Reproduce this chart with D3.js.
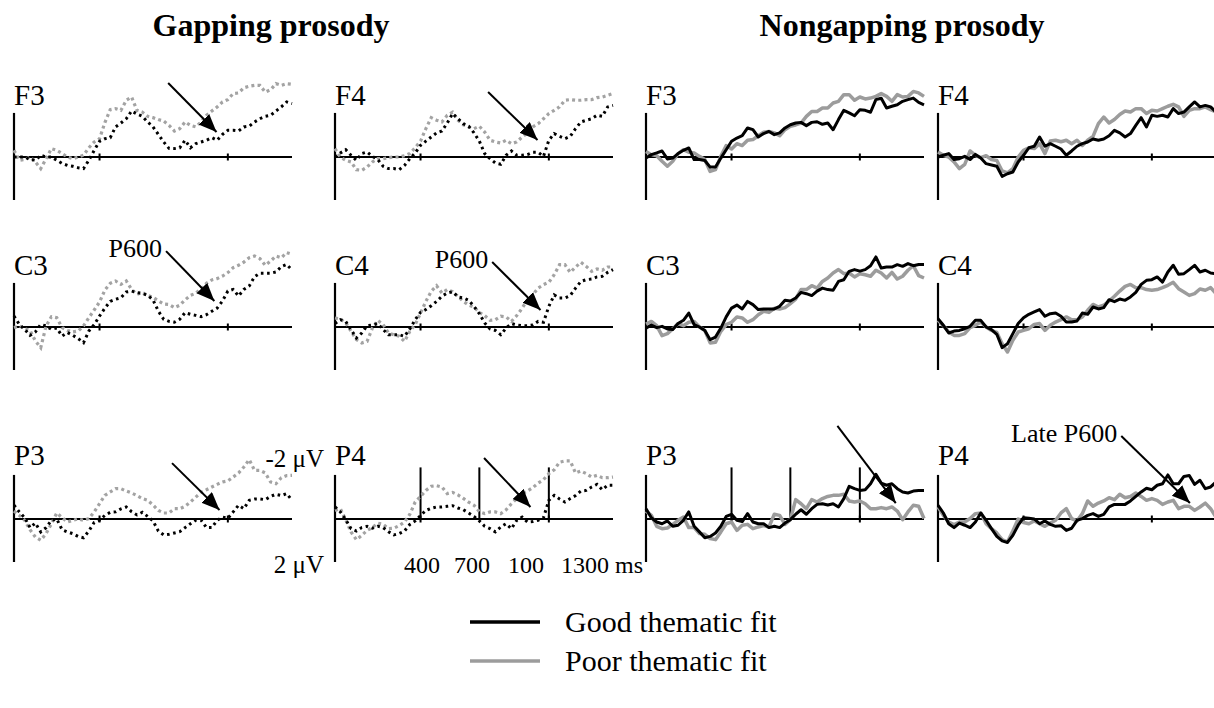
<!DOCTYPE html>
<html><head><meta charset="utf-8">
<script src="https://cdn.jsdelivr.net/npm/d3@7"></script>
<style>body{margin:0;background:#fff}svg{display:block}</style>
</head><body>
<svg id="c" width="1214" height="708"></svg>
<script>
// time base (ms)
const times = [0,25,50,75,100,125,150,175,200,225,250,275,300,325,350,375,400,425,450,475,500,525,550,575,600,625,650,675,700,725,750,775,800,825,850,875,900,925,950,975,1000,1025,1050,1075,1100,1125,1150,1175,1200,1225,1250,1275,1300];

// amplitudes in microvolts (negative plotted up)
const gapF3Good = [0.0,0.0,0.0,0.12,0.15,-0.08,0.0,0.0,0.15,0.3,0.39,0.43,0.5,0.54,0.15,-0.31,-0.73,-0.85,-0.9,-1.4,-1.58,-1.78,-2.14,-2.0,-1.89,-1.63,-1.4,-1.05,-0.7,-0.4,-0.39,-0.43,-0.78,-0.43,-0.62,-0.7,-0.78,-0.9,-0.78,-1.05,-1.24,-1.24,-1.21,-1.4,-1.43,-1.63,-1.78,-1.89,-1.94,-2.14,-2.33,-2.56,-2.48];
const gapF3Poor = [-0.31,0.15,0.12,0,0.23,0.54,0.08,-0.39,-0.31,-0.16,0,0.08,0,-0.08,-0.43,-0.7,-0.85,-1.6,-2.2,-2.25,-2.17,-2.64,-2.79,-2.17,-2.09,-1.89,-1.83,-1.74,-1.67,-1.47,-1.21,-1.32,-1.63,-1.47,-1.4,-1.63,-1.94,-2.14,-2.33,-2.56,-2.67,-2.95,-2.98,-3.22,-3.29,-3.33,-3.33,-3.02,-3.13,-3.41,-3.33,-3.41,-3.38];
const gapF4Good = [0,-0.19,-0.34,-0.08,0.15,-0.16,-0.23,-0.03,0.12,0.43,0.54,0.54,0.59,0.39,0.08,-0.19,-0.54,-0.74,-0.93,-1.12,-1.21,-1.58,-2.02,-1.78,-1.55,-1.43,-1.12,-0.74,-0.16,0.08,0.28,0.34,-0.08,-0.28,-0.08,-0.08,-0.11,-0.22,-0.22,-0.03,-0.78,-1.09,-0.96,-0.85,-0.96,-1.32,-1.63,-1.71,-1.78,-1.94,-1.89,-2.33,-2.4];
const gapF4Poor = [-0.39,0,0.15,0.23,0.59,0.62,0.47,0.23,0.08,0.08,0.03,0,0,-0.06,-0.16,-0.43,-0.74,-1.32,-1.83,-1.71,-1.63,-1.94,-2.09,-1.71,-1.5,-1.4,-1.32,-1.43,-1.16,-0.78,-0.7,-0.65,-0.78,-0.62,-0.7,-0.93,-1.12,-1.4,-1.55,-1.78,-2.02,-2.17,-2.33,-2.64,-2.67,-2.64,-2.64,-2.67,-2.67,-2.76,-2.79,-2.87,-2.95];
const gapC3Good = [-0.51,-0.12,0.11,0.39,0.23,-0.12,-0.05,0.11,0.05,0.42,0.26,0.39,0.54,0.73,0.19,-0.11,-0.51,-0.88,-1.19,-1.29,-1.36,-1.63,-1.67,-1.6,-1.57,-1.47,-1.26,-0.74,-0.36,-0.26,-0.22,-0.36,-0.67,-0.59,-0.54,-0.48,-0.57,-0.73,-0.88,-1.21,-1.67,-1.75,-1.44,-1.75,-1.91,-2.34,-2.5,-2.5,-2.5,-2.56,-2.81,-2.91,-2.65];
const gapC3Poor = [0.03,-0.05,0.08,0.16,0.65,0.96,-0.05,-0.48,-0.43,0.03,0.16,0.23,0.19,-0.05,-0.43,-0.79,-1.16,-1.72,-2.03,-2.14,-1.98,-2.14,-1.75,-1.52,-1.6,-1.47,-1.38,-1.22,-1.07,-1.05,-0.9,-1.01,-1.26,-1.47,-1.57,-1.78,-2.03,-2.19,-2.25,-2.37,-2.53,-2.76,-2.87,-3.02,-3.22,-3.3,-3.18,-2.87,-3.07,-3.3,-3.22,-3.46,-3.38];
const gapC4Good = [-0.16,-0.34,-0.26,0.12,0.51,0.28,-0.06,-0.09,-0.16,0.12,0.36,0.36,0.36,0.43,0.09,-0.34,-0.68,-0.81,-0.99,-1.19,-1.43,-1.58,-1.64,-1.4,-1.35,-1.24,-0.96,-0.62,-0.19,0.09,0.16,0.36,0.05,-0.16,-0.09,-0.06,-0.06,-0.09,-0.26,-0.22,-0.96,-1.49,-1.35,-1.35,-1.46,-1.81,-2.12,-2.2,-2.23,-2.33,-2.36,-2.54,-2.67];
const gapC4Poor = [-0.42,-0.37,-0.19,0.2,0.59,0.74,0.67,0.05,-0.31,-0.11,0.28,0.36,0.43,0.67,0.2,-0.11,-0.65,-1.19,-1.66,-1.92,-1.58,-1.74,-1.64,-1.43,-1.19,-1.02,-0.93,-0.68,-0.53,-0.31,-0.34,-0.5,-0.47,-0.26,-0.53,-0.87,-1.27,-1.5,-1.81,-1.97,-2.08,-2.43,-2.9,-2.9,-2.54,-2.79,-3.01,-2.82,-2.59,-2.7,-2.64,-2.79,-2.79];
const gapP3Good = [-0.64,-0.33,-0.06,0.4,0.19,0.6,0.4,0.06,0,0.5,0.6,0.68,0.81,0.87,0.56,0.16,0.06,-0.17,-0.31,-0.33,-0.47,-0.56,-0.34,-0.19,-0.31,-0.12,0.09,0.56,0.74,0.71,0.65,0.59,0.4,0.22,0.06,0.06,0.4,0.4,0.06,-0.09,-0.03,-0.33,-0.64,-0.48,-0.87,-0.93,-0.93,-0.9,-1.05,-1.15,-1.09,-1.18,-0.87];
const gapP3Poor = [-0.37,-0.17,0.06,0.5,0.84,0.99,0.68,0.22,-0.28,-0.06,0.14,0.06,0,0.06,-0.02,-0.33,-0.71,-1.1,-1.26,-1.41,-1.41,-1.3,-1.21,-1.09,-0.95,-0.87,-0.65,-0.4,-0.28,-0.28,-0.48,-0.48,-0.59,-0.79,-1.02,-1.24,-1.36,-1.49,-1.61,-1.72,-1.77,-1.95,-2.14,-2.42,-2.76,-2.26,-2.26,-2.14,-1.72,-1.64,-1.92,-2.02,-2.03];
const gapP4Good = [-0.56,-0.33,0.03,0.45,0.56,0.4,0.34,0.43,0.34,0.4,0.59,0.74,0.68,0.56,0.25,0.09,-0.16,-0.4,-0.5,-0.56,-0.56,-0.59,-0.62,-0.51,-0.43,-0.28,-0.12,0.09,0.34,0.45,0.6,0.37,0.22,0.45,0.06,-0.09,0.14,0.12,0.06,-0.06,-0.87,-1.1,-0.93,-0.79,-0.95,-1.09,-1.3,-1.33,-1.49,-1.61,-1.36,-1.57,-1.57];
const gapP4Poor = [-0.4,-0.48,0.03,0.6,0.96,0.76,0.53,0.4,0.19,0.25,0.45,0.43,0.31,0.14,-0.22,-0.79,-1.05,-1.33,-1.52,-1.55,-1.49,-1.18,-1.24,-1.12,-0.96,-0.78,-0.64,-0.34,-0.25,-0.33,-0.33,-0.25,-0.43,-0.71,-0.95,-1.18,-1.3,-1.46,-1.67,-1.83,-2.11,-2.29,-2.64,-2.7,-2.7,-2.14,-2.23,-2.11,-1.95,-2.03,-1.92,-1.92,-1.95];

const nonF3Good = [0.05,-0.11,-0.19,-0.28,0.09,0.05,-0.16,-0.31,-0.42,0.12,0.12,0.16,0.47,0.47,0.05,-0.34,-0.73,-0.88,-0.99,-1.35,-1.27,-0.93,-1.09,-1.19,-1.04,-1.12,-1.35,-1.5,-1.58,-1.61,-1.46,-1.61,-1.64,-1.52,-1.58,-1.27,-1.74,-2.17,-2.05,-1.92,-2.2,-2.17,-2.08,-2.67,-2.73,-2.28,-2.36,-2.43,-2.59,-2.67,-2.74,-2.54,-2.43];
const nonF3Poor = [-0.26,-0.11,-0.06,0.2,0.43,0.2,-0.16,-0.34,-0.22,-0.19,-0.03,0.12,0.67,0.59,-0.03,-0.53,-0.37,-0.62,-0.53,-0.78,-0.81,-0.99,-1.15,-1.19,-1.12,-0.99,-1.27,-1.43,-1.49,-1.58,-1.89,-2.12,-2.12,-2.28,-2.28,-2.51,-2.59,-2.9,-2.9,-2.64,-2.79,-2.7,-2.74,-2.82,-2.95,-2.82,-2.59,-2.9,-2.79,-2.82,-3.05,-2.98,-2.82];
const nonF4Good = [0,-0.08,-0.16,0.12,0.08,-0.03,0.12,-0.12,0.05,0.31,0.37,0.43,0.9,0.78,0.7,0.23,-0.08,-0.43,-0.5,-0.93,-0.5,-0.62,-0.5,-0.37,-0.08,-0.28,-0.5,-0.62,-0.7,-0.84,-0.78,-0.84,-0.99,-1.24,-1.12,-0.93,-1.09,-1.47,-1.83,-1.4,-1.94,-1.89,-1.94,-1.86,-2.25,-2.02,-2.09,-2.33,-2.56,-2.33,-2.4,-2.33,-2.09];
const nonF4Poor = [-0.23,-0.08,0,0.23,0.54,0.34,-0.28,-0.08,0.03,-0.06,0.12,0.16,0.65,0.74,0.54,0,-0.31,-0.43,-0.39,-0.62,-0.16,-0.74,-0.78,-0.71,-0.78,-0.62,-0.78,-0.54,-0.78,-0.96,-1.55,-1.86,-1.58,-1.74,-1.98,-2.14,-2.09,-2.25,-2.25,-2.02,-2.17,-2.14,-2.25,-2.36,-2.45,-2.33,-1.89,-2.17,-2.25,-2.25,-2.33,-2.2,-2.09];
const nonC3Good = [0.05,-0.09,0.03,-0.03,0.09,0.12,-0.16,-0.31,-0.65,-0.11,0,0.16,0.59,0.47,0.05,-0.47,-0.88,-1.02,-0.84,-1.19,-1.04,-0.81,-0.84,-0.84,-0.84,-0.96,-1.24,-1.21,-1.35,-1.61,-1.55,-1.46,-1.67,-1.81,-1.74,-1.71,-2.12,-2.2,-2.59,-2.67,-2.6,-2.67,-2.85,-3.26,-2.74,-2.79,-2.79,-2.9,-2.82,-2.95,-2.85,-2.91,-2.91];
const nonC3Poor = [-0.14,-0.26,-0.06,0.4,0.31,0.09,-0.16,-0.06,-0.22,-0.26,0,0.16,0.74,0.71,0.2,-0.11,-0.22,-0.47,-0.42,-0.22,-0.34,-0.57,-0.73,-0.68,-0.87,-0.84,-0.9,-1.09,-1.3,-1.74,-1.74,-1.92,-1.81,-2.12,-2.28,-2.51,-2.67,-2.48,-2.51,-2.33,-2.48,-2.43,-2.36,-2.64,-2.51,-2.28,-2.54,-2.23,-2.36,-2.64,-2.85,-2.39,-2.28];
const nonC4Good = [-0.39,-0.08,0.28,0.19,0.16,0.08,-0.03,-0.31,-0.31,0,0.12,0.34,0.96,0.78,0.31,-0.16,-0.43,-0.59,-0.7,-0.81,-0.5,-0.62,-0.65,-0.5,-0.23,-0.23,-0.28,-0.65,-0.59,-0.93,-0.84,-0.9,-1.27,-1.18,-1.3,-1.24,-1.4,-1.61,-1.98,-2.17,-2.2,-2.33,-2.09,-2.56,-2.87,-2.45,-2.48,-2.67,-2.87,-2.56,-2.64,-2.51,-2.48];
const nonC4Poor = [-0.31,-0.06,0.23,0.39,0.39,0.31,0.03,-0.08,-0.23,0,0.16,0.25,0.78,1.16,0.62,0.23,0.16,0.08,-0.12,-0.16,0.16,-0.08,-0.23,-0.34,-0.47,-0.34,-0.34,-0.47,-0.78,-1.05,-0.93,-1.01,-1.21,-1.43,-1.67,-1.89,-1.98,-1.83,-1.83,-1.74,-1.71,-1.74,-1.83,-1.94,-2.08,-1.78,-1.63,-1.47,-1.55,-1.77,-1.71,-1.83,-1.55];
const nonP3Good = [-0.48,-0.06,0.14,0.22,0.09,0.34,0.29,0.06,-0.33,0.34,0.6,0.87,0.81,0.65,0.34,-0.12,-0.22,0.06,0.12,-0.25,0.14,0.22,0.22,0.4,0.34,0.4,0.19,0.03,-0.22,-0.43,-0.22,-0.48,-0.68,-0.71,-0.65,-0.71,-0.56,-0.95,-1.52,-1.41,-1.33,-1.36,-1.64,-2.08,-1.67,-1.57,-1.64,-1.41,-1.26,-1.21,-1.3,-1.33,-1.33];
const nonP3Poor = [-0.37,-0.17,0.34,0.45,0.42,0.25,0.06,-0.09,0.4,0.4,0.68,0.71,0.91,0.96,0.6,0.22,0.14,0.53,0.29,0.25,0.45,0.37,0.31,0.37,-0.22,-0.17,0.25,0.03,-0.9,-0.71,-0.48,-0.9,-0.79,-0.95,-1.05,-1.1,-1.1,-1.15,-0.84,-0.79,-0.84,-0.71,-0.48,-0.48,-0.53,-0.48,-0.56,-0.37,0.03,-0.33,-0.64,-0.59,-0.02];
const nonP4Good = [-0.64,-0.28,0.22,0.4,0.19,0.29,0.4,0.14,-0.28,0.06,0.45,0.81,1.02,1.09,0.76,0.29,-0.06,-0.03,0,0.22,0.09,0.25,0.34,0.31,0.53,0.43,0.06,-0.02,-0.17,-0.25,-0.12,-0.22,-0.56,-0.68,-0.68,-0.68,-0.84,-1.05,-1.26,-1.43,-1.36,-1.57,-1.64,-2.05,-1.64,-1.64,-1.98,-2.02,-1.61,-1.8,-1.41,-1.49,-1.72];
const nonP4Poor = [-0.56,-0.17,0.14,0.26,0.14,0.14,-0.02,-0.25,-0.28,0.22,0.45,0.65,0.96,1.07,0.56,0,0.16,0.22,0.09,0.22,0.34,0.19,0.06,-0.28,-0.48,-0.02,0.09,-0.25,-0.84,-0.59,-0.74,-0.84,-0.99,-0.9,-1.15,-0.99,-1.05,-1.21,-1.05,-0.87,-0.95,-0.87,-0.68,-0.79,-0.87,-0.48,-0.59,-0.59,-0.4,-0.56,-0.74,-0.48,-0.09];

const conditions = ['gap','non'];
const conditionTitles = ['Gapping prosody','Nongapping prosody'];
const channels = ['F3','F4','C3','C4','P3','P4'];
const seriesNames = ['Good thematic fit','Poor thematic fit'];
const tickTimes = [400, 1000];
const markerTimes = [400, 675, 1000];
const markerPanels = ['gap-P4','non-P3'];
const tickLabels = ['400','700','100','1300 ms'];
const ampLabels = ['-2 \u03bcV','2 \u03bcV'];
// annotations: [panel, label, t0, v0, t1, v1]
const arrowNotes = [
  ['gap-F3', '',      721, -3.44, 947, -1.16],
  ['gap-F4', '',      716, -3.02, 947, -0.79],
  ['gap-C3', 'P600',  711, -3.53, 937, -1.21],
  ['gap-C4', 'P600',  735, -3.02, 961, -0.79],
  ['gap-P3', '',      739, -2.60, 961, -0.42],
  ['gap-P4', '',      697, -2.84, 914, -0.56],
  ['non-P3', '',      895, -4.33, 1168, -0.74],
  ['non-P4', 'Late P600', 857, -3.86, 1178, -0.74]
];

const data = {
  gap: {F3:[gapF3Good,gapF3Poor],F4:[gapF4Good,gapF4Poor],C3:[gapC3Good,gapC3Poor],C4:[gapC4Good,gapC4Poor],P3:[gapP3Good,gapP3Poor],P4:[gapP4Good,gapP4Poor]},
  non: {F3:[nonF3Good,nonF3Poor],F4:[nonF4Good,nonF4Poor],C3:[nonC3Good,nonC3Poor],C4:[nonC4Good,nonC4Poor],P3:[nonP3Good,nonP3Poor],P4:[nonP4Good,nonP4Poor]}
};

// ---- layout ----
const FONT = '"Liberation Serif","Times New Roman",Times,serif';
const colX = {gap:[14,335], non:[646,938]};
const rowBase = [157,327,519];
const chPos = {F3:[0,0],F4:[1,0],C3:[0,1],C4:[1,1],P3:[0,2],P4:[1,2]};
const GRAY = '#9c9c9c';

const svg = d3.select('#c');
svg.append('rect').attr('width',1214).attr('height',708).attr('fill','#fff');

const x = d3.scaleLinear().domain([0,1300]).range([0,278]);
const y = d3.scaleLinear().domain([-2,2]).range([-43,43]);
const line = d3.line().x((d,i)=>x(times[i])).y(d=>y(d));

svg.append('defs').append('marker')
  .attr('id','ah').attr('markerUnits','userSpaceOnUse')
  .attr('markerWidth',20).attr('markerHeight',16)
  .attr('refX',18).attr('refY',7.5).attr('orient','auto')
  .append('path').attr('d','M0,0 L18,7.5 L0,15 Z').attr('fill','#000');

// titles
const titleX = [271, 902];
conditions.forEach((c,i)=>{
  svg.append('text').attr('x',titleX[i]).attr('y',36)
    .attr('text-anchor','middle').attr('font-family',FONT)
    .attr('font-weight','bold').attr('font-size',32).text(conditionTitles[i]);
});

const panels = {};
conditions.forEach(cond=>{
  channels.forEach(ch=>{
    const [c,r] = chPos[ch];
    const g = svg.append('g').attr('transform',`translate(${colX[cond][c]},${rowBase[r]})`);
    panels[cond+'-'+ch] = g;
    // axes
    g.append('line').attr('x1',0).attr('x2',x(1300)).attr('y1',0).attr('y2',0)
      .attr('stroke','#000').attr('stroke-width',2);
    g.append('line').attr('x1',0).attr('x2',0).attr('y1',y(-2.05)).attr('y2',y(2))
      .attr('stroke','#000').attr('stroke-width',2.2);
    g.selectAll('line.tk').data(tickTimes).enter().append('line').attr('class','tk')
      .attr('x1',d=>x(d)).attr('x2',d=>x(d)).attr('y1',-3.5).attr('y2',3.5)
      .attr('stroke','#000').attr('stroke-width',2);
    if (markerPanels.includes(cond+'-'+ch)) {
      g.selectAll('line.mk').data(markerTimes).enter().append('line').attr('class','mk')
        .attr('x1',d=>x(d)).attr('x2',d=>x(d)).attr('y1',y(-2.4)).attr('y2',y(0.05))
        .attr('stroke','#000').attr('stroke-width',2);
    }
    const [good,poor] = data[cond][ch];
    if (cond==='gap') {
      g.append('path').attr('d',line(poor)).attr('fill','none').attr('stroke','#a3a3a3')
        .attr('stroke-width',3.2).attr('stroke-dasharray','3 3.2');
      g.append('path').attr('d',line(good)).attr('fill','none').attr('stroke','#000')
        .attr('stroke-width',3).attr('stroke-dasharray','2.6 3.6');
    } else {
      g.append('path').attr('d',line(poor)).attr('fill','none').attr('stroke',GRAY)
        .attr('stroke-width',3.5).attr('stroke-linejoin','round');
      g.append('path').attr('d',line(good)).attr('fill','none').attr('stroke','#000')
        .attr('stroke-width',3).attr('stroke-linejoin','round');
    }
    g.append('text').attr('x',0).attr('y',r===2?-54:-52)
      .attr('font-family',FONT).attr('font-size',29).text(ch);
  });
});

// arrows and their labels
arrowNotes.forEach(([p,label,t0,v0,t1,v1])=>{
  const g = panels[p];
  g.append('line').attr('x1',x(t0)).attr('y1',y(v0)).attr('x2',x(t1)).attr('y2',y(v1))
    .attr('stroke','#000').attr('stroke-width',2).attr('marker-end','url(#ah)');
  if (label) {
    g.append('text').attr('x',x(t0)-4).attr('y',y(v0)+6).attr('text-anchor','end')
      .attr('font-family',FONT).attr('font-size',26).text(label);
  }
});

// amplitude & time labels (P4 gapping panel)
const pg = panels['gap-P4'];
pg.append('text').attr('x',-11).attr('y',y(-2)-9).attr('text-anchor','end')
  .attr('font-family',FONT).attr('font-size',25).text(ampLabels[0]);
pg.append('text').attr('x',-11).attr('y',y(2)+11).attr('text-anchor','end')
  .attr('font-family',FONT).attr('font-size',25).text(ampLabels[1]);
const tickLabelX = [69, 119, 173, 226];
tickLabels.forEach((t,i)=>{
  pg.append('text').attr('x',tickLabelX[i]).attr('y',y(2)+11)
    .attr('font-family',FONT).attr('font-size',24).text(t);
});

// legend
const lg = svg.append('g').attr('transform','translate(470,622)');
const legendColors = ['#000', GRAY];
seriesNames.forEach((s,i)=>{
  lg.append('line').attr('x1',0).attr('x2',70).attr('y1',i*39).attr('y2',i*39)
    .attr('stroke',legendColors[i]).attr('stroke-width',3.5);
  lg.append('text').attr('x',95).attr('y',i*39+10)
    .attr('font-family',FONT).attr('font-size',30).text(s);
});
</script>
</body></html>
